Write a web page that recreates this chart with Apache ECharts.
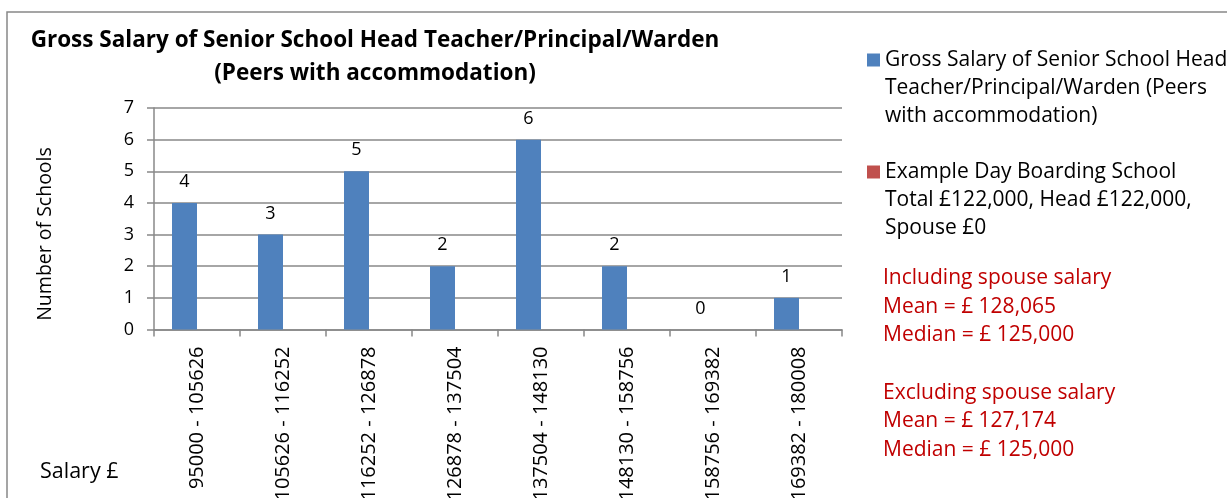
<!DOCTYPE html>
<html>
<head>
<meta charset="utf-8">
<script src="https://cdn.jsdelivr.net/npm/echarts@6/dist/echarts.min.js"></script>
<style>
    html, body { margin: 0; padding: 0; background: #fff; }
    #salaryChart { width: 1227px; height: 498px; }
</style>
</head>
<body>
<div id="salaryChart"></div>
<script>
    // salary bands (x axis)
    var salaryBands = ['95000 - 105626', '105626 - 116252', '116252 - 126878', '126878 - 137504',
        '137504 - 148130', '148130 - 158756', '158756 - 169382', '169382 - 180008'];
    // number of schools per band
    var peerCounts = [4, 3, 5, 2, 6, 2, 0, 1];
    // example school - nothing drawn in the picture
    var exampleCounts = [0, 0, 0, 0, 0, 0, 0, 0];
    var yTicks = [0, 1, 2, 3, 4, 5, 6, 7];

    var peerName = 'Gross Salary of Senior School Head\nTeacher/Principal/Warden (Peers\nwith accommodation)';
    var exampleName = 'Example Day Boarding School\nTotal £122,000, Head £122,000,\nSpouse £0';
    var statsText = ['Including spouse salary', 'Mean = £ 128,065', 'Median = £ 125,000', '',
        'Excluding spouse salary', 'Mean = £ 127,174', 'Median = £ 125,000'];

    var FONT = 'Open Sans';
    var GREY = '#888888';

    var myChart = echarts.init(document.getElementById('salaryChart'));

    // one legend per item so the marker sits on the first text line
    function legendBlock(name, top){
        return {
            data: [name],
            orient: 'vertical',
            left: 867,
            top: top,
            padding: 0,
            itemWidth: 13,
            itemHeight: 13,
            icon: 'rect',
            selectedMode: false,
            formatter: function(n){
                return '\n\n' + n;   // two blank lines so the text block starts at the marker
            },
            textStyle: {
                fontFamily: FONT,
                fontSize: 21,
                color: '#000',
                lineHeight: 28
            }
        };
    }

    var option = {
        animation: false,
        backgroundColor: '#fff',
        title: {
            text: 'Gross Salary of Senior School Head Teacher/Principal/Warden\n(Peers with accommodation)',
            left: 370,
            top: 19,
            textAlign: 'center',
            textStyle: {
                fontFamily: FONT,
                fontSize: 22.5,
                fontWeight: 'bold',
                color: '#000',
                lineHeight: 33
            }
        },
        legend: [legendBlock(peerName, -10), legendBlock(exampleName, 102)],
        grid: {
            left: 154,
            right: 385,
            top: 108,
            bottom: 168.5,
            outerBoundsMode: 'none'
        },
        xAxis: {
            type: 'category',
            data: salaryBands,
            axisLine: { lineStyle: { color: GREY, width: 1.5 } },
            axisTick: { show: true, length: 7, interval: 0, lineStyle: { color: GREY, width: 1.5 } },
            axisLabel: {
                interval: 0,
                rotate: 90,
                margin: 17,
                fontFamily: FONT,
                fontSize: 20,
                color: '#000'
            }
        },
        yAxis: {
            type: 'value',
            min: yTicks[0],
            max: yTicks[yTicks.length - 1],
            interval: 1,
            axisLine: { show: true, lineStyle: { color: GREY, width: 1.5 } },
            axisTick: { show: true, length: 7, lineStyle: { color: GREY, width: 1.5 } },
            axisLabel: {
                margin: 20,
                fontFamily: FONT,
                fontSize: 18,
                color: '#000'
            },
            splitLine: { lineStyle: { color: GREY, width: 1.5 } }
        },
        series: [
            {
                name: peerName,
                type: 'bar',
                data: peerCounts,
                barWidth: 25,
                barGap: '0%',
                itemStyle: { color: '#4f81bd' },
                label: {
                    show: true,
                    position: 'top',
                    distance: 12,
                    fontFamily: FONT,
                    fontSize: 18,
                    color: '#000'
                }
            },
            {
                name: exampleName,
                type: 'bar',
                data: exampleCounts,
                barWidth: 25,
                barGap: '0%',
                itemStyle: { color: '#c0504d' }
            }
        ],
        graphic: [
            {
                // outer chart border (cut off at right/bottom)
                type: 'rect',
                shape: { x: 7, y: 12, width: 1300, height: 600 },
                style: { fill: null, stroke: GREY, lineWidth: 1.5 },
                silent: true
            },
            {
                type: 'text',
                x: 45,
                y: 234,
                rotation: Math.PI / 2,
                style: {
                    text: 'Number of Schools',
                    fontFamily: FONT,
                    fontSize: 19.5,
                    fill: '#000',
                    align: 'center',
                    verticalAlign: 'middle'
                }
            },
            {
                type: 'text',
                x: 40,
                y: 472,
                style: {
                    text: 'Salary £',
                    fontFamily: FONT,
                    fontSize: 21.5,
                    fill: '#000',
                    verticalAlign: 'middle'
                }
            },
            {
                type: 'text',
                x: 883,
                y: 264,
                style: {
                    text: statsText.join('\n'),
                    fontFamily: FONT,
                    fontSize: 21,
                    lineHeight: 28.6,
                    fill: '#c00000'
                }
            }
        ]
    };

    myChart.setOption(option);
</script>
</body>
</html>
